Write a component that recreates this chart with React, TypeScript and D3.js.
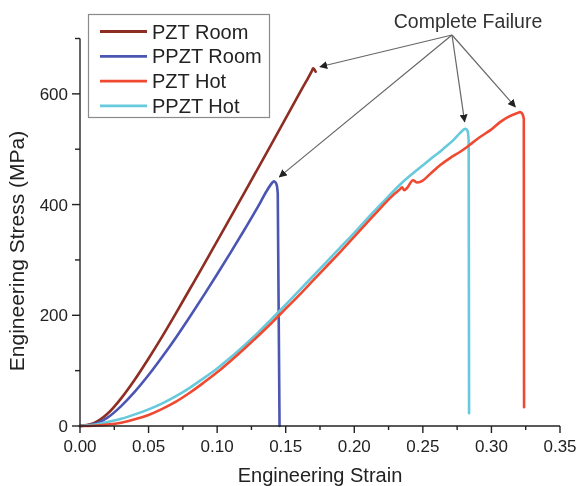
import React from "react";
import * as d3 from "d3";

type Pt = [number, number];

// Engineering strain (mm/mm) vs engineering stress (MPa)
const pztRoom: Pt[] = [
  [0, 0], [0.01, 5], [0.02, 22], [0.03, 50], [0.04, 84], [0.05, 122], [0.06, 162],
  [0.07, 204], [0.08, 247], [0.09, 290], [0.1, 334], [0.12, 422], [0.14, 511],
  [0.16, 601], [0.165, 623], [0.169, 641], [0.17, 646], [0.1718, 640],
];

const ppztRoom: Pt[] = [
  [0, 0], [0.01, 3], [0.02, 15], [0.03, 36], [0.04, 62], [0.05, 92], [0.06, 125],
  [0.07, 160], [0.08, 197], [0.09, 235], [0.1, 274], [0.11, 314], [0.12, 355],
  [0.13, 397], [0.136, 424], [0.14, 439], [0.1414, 442], [0.1432, 437], [0.1442, 420],
  [0.1455, 0],
];

const pztHot: Pt[] = [
  [0, 0], [0.01, 0.5], [0.02, 2.5], [0.03, 6], [0.04, 12], [0.05, 20], [0.06, 31],
  [0.07, 44], [0.08, 60], [0.09, 78], [0.1, 97], [0.11, 118], [0.12, 140], [0.13, 163],
  [0.14, 187], [0.15, 212], [0.16, 237], [0.17, 263], [0.18, 289], [0.19, 315],
  [0.2, 342], [0.21, 369], [0.22, 396], [0.2287, 418], [0.233, 427], [0.2348, 431],
  [0.2365, 426], [0.2385, 430], [0.2428, 444], [0.2455, 440], [0.249, 442],
  [0.2552, 455], [0.2625, 471], [0.2698, 484], [0.277, 495], [0.2822, 504],
  [0.2858, 511], [0.2917, 522], [0.299, 534], [0.3063, 549], [0.312, 558],
  [0.3185, 565], [0.3208, 567], [0.3225, 564], [0.3236, 555], [0.3238, 34],
];

const ppztHot: Pt[] = [
  [0, 0], [0.01, 2], [0.02, 7], [0.03, 13], [0.04, 21], [0.05, 30], [0.06, 41],
  [0.07, 54], [0.08, 69], [0.09, 86], [0.1, 104], [0.11, 124], [0.12, 146],
  [0.13, 169], [0.14, 194], [0.15, 219], [0.16, 245], [0.17, 271], [0.18, 297],
  [0.19, 323], [0.2, 349], [0.21, 376], [0.22, 402], [0.235, 440], [0.245, 461],
  [0.255, 481], [0.265, 501], [0.272, 516], [0.277, 529], [0.2795, 535],
  [0.2812, 537], [0.2826, 533], [0.2834, 515], [0.2837, 23],
];

const seriesNames = ["PZT Room", "PPZT Room", "PZT Hot", "PPZT Hot"];
const seriesData = [pztRoom, ppztRoom, pztHot, ppztHot];
const seriesColors = ["#8e2d22", "#4b56b2", "#ef4a31", "#66c9dc"];
const drawOrder = [0, 1, 3, 2];

const xMajorTicks = [0, 0.05, 0.1, 0.15, 0.2, 0.25, 0.3, 0.35];
const yMajorTicks = [0, 200, 400, 600];
const yMinorTicks = [100, 300, 500, 700];

const annotationText = "Complete Failure";

const FONT = "'Liberation Sans', Arial, sans-serif";

export default function App() {
  const x = d3.scaleLinear().domain([0, 0.35]).range([80, 560]);
  const y = d3.scaleLinear().domain([0, 700]).range([426, 38.5]);
  const line = d3
    .line<Pt>()
    .x((d) => x(d[0]))
    .y((d) => y(d[1]))
    .curve(d3.curveMonotoneX);

  const xMinorTicks = d3.range(0.025, 0.35, 0.05);
  const fmt = d3.format(".2f");

  // failure point of each series = its maximum stress
  const failurePts = seriesData.map((s) => s.reduce((a, b) => (b[1] > a[1] ? b : a)));
  const arrowOrigin: Pt = [452, 35];
  const arrows = failurePts.map((p) => {
    const px = x(p[0]);
    const py = y(p[1]);
    const dx = px - arrowOrigin[0];
    const dy = py - arrowOrigin[1];
    const len = Math.hypot(dx, dy);
    const back = 7;
    return { x2: px - (dx / len) * back, y2: py - (dy / len) * back };
  });

  const x0 = x(0);
  const y0 = y(0);

  return (
    <svg
      width={579}
      height={486}
      style={{ position: "absolute", left: 0, top: 0, background: "#fff" }}
      fontFamily={FONT}
    >
      <defs>
        <marker
          id="arrowHead"
          viewBox="0 0 10 10"
          refX="9"
          refY="5"
          markerWidth="8"
          markerHeight="8"
          markerUnits="userSpaceOnUse"
          orient="auto"
        >
          <path d="M0,0 L10,5 L0,10 z" fill="#222" />
        </marker>
        <filter id="soft" x="-5%" y="-5%" width="110%" height="110%">
          <feGaussianBlur stdDeviation="0.45" />
        </filter>
      </defs>
      <rect width={579} height={486} fill="#fff" />
      <g filter="url(#soft)">
        {/* curves */}
        {drawOrder.map((i) => (
          <path
            key={seriesNames[i]}
            d={line(seriesData[i]) ?? ""}
            fill="none"
            stroke={seriesColors[i]}
            strokeWidth={2.6}
            strokeLinejoin="round"
            strokeLinecap="round"
          />
        ))}

        {/* axes */}
        <g stroke="#222" strokeWidth={1.4} fill="none">
          <line x1={x0} y1={y(700)} x2={x0} y2={y0} />
          <line x1={x0} y1={y0} x2={x(0.35)} y2={y0} />
          {xMajorTicks.map((t) => (
            <line key={"xM" + t} x1={x(t)} x2={x(t)} y1={y0} y2={y0 + 7} />
          ))}
          {xMinorTicks.map((t) => (
            <line key={"xm" + t} x1={x(t)} x2={x(t)} y1={y0} y2={y0 + 4} />
          ))}
          {yMajorTicks.map((t) => (
            <line key={"yM" + t} x1={x0 - 8} x2={x0} y1={y(t)} y2={y(t)} />
          ))}
          {yMinorTicks.map((t) => (
            <line key={"ym" + t} x1={x0 - 5} x2={x0} y1={y(t)} y2={y(t)} />
          ))}
        </g>
        <g fontSize={17} fill="#222">
          {xMajorTicks.map((t) => (
            <text key={"xl" + t} x={x(t)} y={452} textAnchor="middle">
              {fmt(t)}
            </text>
          ))}
          {yMajorTicks.map((t) => (
            <text key={"yl" + t} x={x0 - 12} y={y(t) + 6} textAnchor="end">
              {t}
            </text>
          ))}
        </g>
        <text x={320} y={482} textAnchor="middle" fontSize={20} fill="#222">
          Engineering Strain
        </text>
        <text
          transform="translate(24,251) rotate(-90)"
          textAnchor="middle"
          fontSize={21}
          fill="#222"
        >
          Engineering Stress (MPa)
        </text>

        {/* legend */}
        <rect x={88.5} y={14.5} width={181} height={103} fill="#fff" stroke="#8a8a8a" strokeWidth={1.2} />
        {seriesNames.map((name, i) => (
          <g key={name} transform={`translate(0,${31.5 + i * 24.8})`}>
            <line x1={100} x2={147} y1={0} y2={0} stroke={seriesColors[i]} strokeWidth={2.8} />
            <text x={152} y={7} fontSize={20} fill="#222">
              {name}
            </text>
          </g>
        ))}

        {/* failure annotation */}
        <text x={468} y={28} textAnchor="middle" fontSize={19.5} fill="#333">
          {annotationText}
        </text>
        {arrows.map((a, i) => (
          <line
            key={"arrow" + i}
            x1={arrowOrigin[0]}
            y1={arrowOrigin[1]}
            x2={a.x2}
            y2={a.y2}
            stroke="#666"
            strokeWidth={1.2}
            markerEnd="url(#arrowHead)"
          />
        ))}
      </g>
    </svg>
  );
}
